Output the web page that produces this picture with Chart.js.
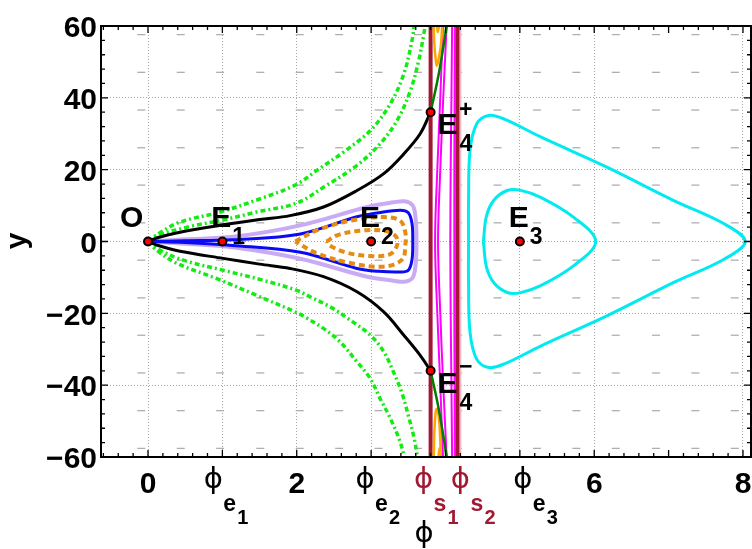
<!DOCTYPE html>
<html>
<head>
<meta charset="utf-8">
<script src="https://cdn.jsdelivr.net/npm/chart.js@4"></script>
<style>
body{margin:0;background:#fff}
</style>
</head>
<body>
<canvas id="chart" width="752" height="549"></canvas>
<script>

// equilibria
const pointX=[0,1,3,5,3.8,3.8]
const pointY=[0,0,0,0,36,-36]

// axis ticks
const xTickValues=[0,1,2,3,3.8,4.16,5,6,8]
const xNumberTicks=[0,2,6,8]
const yTickValues=[-60,-40,-20,0,20,40,60]
const phiTickAt=[1,3,3.8,4.16,5]
const phiSub=["e","e","s","s","e"]
const phiIdx=["1","2","1","2","3"]

// field arrows (grid of the direction field)
const fieldX=[-0.09,0.44,0.97,1.51,2.04,2.57,3.10,3.63,4.17,4.70,5.23,5.76,6.29,6.83,7.36,7.89]
const fieldY=[57.6,47.1,36.6,26.1,15.7,5.2,-5.2,-15.7,-26.1,-36.6,-47.1,-57.6]

// green dash-dot trajectories from O
const greenUpOuterX=[0,0.15,0.43,0.97,1.51,2.0,2.27,2.63,2.99,3.26,3.44,3.55,3.59]
const greenUpOuterY=[0,2.3,5.4,8.2,11.9,15.9,19.8,24.9,30.9,38.4,46.7,56.0,62]
const greenUpInnerX=[0,0.12,0.57,1.01,1.46,2.0,2.36,2.81,3.12,3.35,3.53,3.64,3.71,3.74]
const greenUpInnerY=[0,1.6,4.2,6.0,8.2,10.7,15.1,21.2,27.2,33.7,42.1,50.4,57.9,62]
const greenDnInnerX=[0,0.12,0.475,1.01,1.55,2.0,2.18,2.45,2.72,2.99,3.17,3.30,3.41,3.50,3.58,3.64]
const greenDnInnerY=[0,-2.0,-5.2,-8.0,-10.8,-13.6,-15.4,-18.2,-21.9,-26.1,-30.7,-36.3,-41.9,-48.4,-54.9,-62]
const greenDnOuterX=[0,0.12,0.39,0.92,1.46,2.0,2.14,2.36,2.58,2.81,2.99,3.12,3.26,3.39,3.47]
const greenDnOuterY=[0,-2.5,-6.1,-10.3,-15.0,-19.8,-21.4,-24.2,-27.9,-33.5,-38.2,-43.7,-49.3,-55.8,-62]

// black separatrices O -> E4
const blackUpX=[0,0.15,0.43,0.97,1.5,1.91,2.36,2.81,3.17,3.44,3.66,3.80]
const blackUpY=[0,1.2,2.6,4.5,6.1,7.2,9.6,14.2,18.9,24.4,30.0,36]
const blackDnX=[0,0.15,0.43,1.01,1.5,1.91,2.36,2.81,3.17,3.44,3.66,3.80]
const blackDnY=[0,-1.2,-2.7,-4.7,-6.3,-7.5,-9.8,-14.0,-19.6,-26.1,-31.7,-36]

// dark green from E4
const darkUpX=[3.80,3.91,4.02]
const darkUpY=[36,46.7,60.5]
const darkDnX=[3.80,3.91,4.02]
const darkDnY=[-36,-46.7,-60.5]

// loops around E2
const lavenderX=[0,0.5,1.14,2.05,2.95,3.3,3.45,3.56,3.6,3.61,3.6,3.56,3.45,3.3,2.95,2.05,1.14,0.5,0]
const lavenderY=[0,0.6,1.3,4.5,9.6,10.9,11.2,10.0,6,0,-6,-10,-11.2,-10.9,-9.8,-4.8,-1.6,-0.6,0]
const blueX=[0,0.5,1.14,2.05,2.81,3.1,3.39,3.5,3.55,3.56,3.55,3.5,3.39,3.1,2.81,2.05,1.14,0.5,0]
const blueY=[0,0.2,0.5,2.1,6.9,8.0,8.7,8.0,5,0,-5,-8.0,-8.5,-8.3,-7.5,-3.0,-1.1,-0.3,0]
const orangeOuterX=[1.98,2.27,2.72,3.17,3.39,3.46,3.46,3.42,3.17,2.72,2.27,1.98]
const orangeOuterY=[0,3.1,5.8,6.8,5.8,2.5,-1,-5,-7.0,-6.0,-3.3,0]
const orangeInnerX=[2.40,2.55,2.85,3.17,3.33,3.35,3.25,2.95,2.65,2.45,2.40]
const orangeInnerY=[0,1.8,3.0,3.0,1.5,-1,-3.6,-4.0,-3.0,-1.2,0]

// loops around E3
const cyanOuterX=[4.31,4.31,4.33,4.42,4.58,4.8,5.28,6.17,7.07,7.74,8.03,7.74,7.07,6.17,5.28,4.8,4.58,4.42,4.33,4.31,4.31]
const cyanOuterY=[0,11.4,25.3,32.8,35.1,34,29.1,20.7,11.4,5.0,0,-5.0,-11.4,-20.7,-29.1,-34,-35.1,-32.8,-25.3,-11.4,0]
const cyanInnerX=[4.51,4.55,4.65,4.83,5.0,5.28,5.72,6.02,5.72,5.28,5.0,4.83,4.65,4.55,4.51]
const cyanInnerY=[0,7,11.5,14.2,14.3,12.3,6.8,0,-6.8,-12.3,-14.3,-14.2,-11.5,-7,0]

// strip between singular lines
const magentaAX=[3.97,3.93,3.89,3.86,3.89,3.93,3.97]
const magentaBX=[4.02,3.97,3.93,3.90,3.93,3.97,4.02]
const magentaCX=[4.09,4.08,4.07,4.065,4.07,4.08,4.09]
const magentaDX=[4.13,4.125,4.12,4.12,4.12,4.125,4.13]
const magentaY=[62,40,20,0,-20,-40,-62]
const orangeTopX=[3.84,3.85,3.87,3.885,3.91,3.94,3.96]
const orangeTopY=[62,55,50.5,49,51,55,62]
const orangeTopSmallX=[3.88,3.895,3.93]
const orangeTopSmallY=[62,58.3,62]
const orangeBotX=[3.84,3.85,3.865,3.88,3.905,3.925,3.94]
const orangeBotY=[-62,-53,-48,-46.6,-48,-53,-62]
const orangeBotSmallX=[3.90,3.92,3.95]
const orangeBotSmallY=[-62,-57.5,-62]
const singularX=[3.8,4.16]


function curve(xs,ys,color,width,dash,order){
return {
data:xs.map((x,i)=>({x:x,y:ys[i]})),
showLine:true,
borderColor:color,
borderWidth:width,
borderDash:dash||[],
pointRadius:0,
tension:0.35,
fill:false,
clip:0,
order:order
}
}

const fieldPts=[]
fieldY.forEach(y=>fieldX.forEach(x=>fieldPts.push({x:x,y:y})))

const GREEN="rgb(20,235,20)"
const GDASH=[5,3,2,3]
const ORANGE="rgb(230,140,20)"
const MAROON="rgb(160,25,50)"
const MAGENTA="rgb(255,0,255)"

const datasets=[
{data:pointX.map((x,i)=>({x:x,y:pointY[i]})),showLine:false,pointRadius:4,pointBackgroundColor:"rgb(255,0,0)",pointBorderColor:"#000",pointBorderWidth:2,clip:false,order:0},
curve(darkUpX,darkUpY,"rgb(0,125,0)",2.5,null,2),
curve(darkDnX,darkDnY,"rgb(0,125,0)",2.5,null,2),
curve(orangeTopX,orangeTopY,"rgb(255,165,0)",2.5,null,3),
curve(orangeTopSmallX,orangeTopSmallY,"rgb(255,165,0)",2.5,null,3),
curve(orangeBotX,orangeBotY,"rgb(255,165,0)",2.5,null,3),
curve(orangeBotSmallX,orangeBotSmallY,"rgb(255,165,0)",2.5,null,3),
curve(magentaAX,magentaY,MAGENTA,2,null,4),
curve(magentaBX,magentaY,MAGENTA,2,null,4),
curve(magentaCX,magentaY,MAGENTA,2,null,4),
curve(magentaDX,magentaY,MAGENTA,2,null,4),
curve([singularX[0],singularX[0]],[-62,62],MAROON,4,null,5),
curve([singularX[1],singularX[1]],[-62,62],MAROON,4,null,5),
curve([singularX[1],singularX[1]],[-62,62],"rgb(238,185,195)",8,null,6),
curve(blackUpX,blackUpY,"#000",3,null,7),
curve(blackDnX,blackDnY,"#000",3,null,7),
curve(orangeOuterX,orangeOuterY,ORANGE,4,[6,4],8),
curve(orangeInnerX,orangeInnerY,ORANGE,4,[6,4],8),
curve(blueX,blueY,"rgb(10,10,245)",3,null,9),
curve(lavenderX,lavenderY,"rgb(200,170,245)",4,null,10),
curve(cyanOuterX,cyanOuterY,"rgb(0,235,240)",3,null,11),
curve(cyanInnerX,cyanInnerY,"rgb(0,235,240)",3,null,11),
curve(greenUpOuterX,greenUpOuterY,GREEN,3.5,GDASH,12),
curve(greenUpInnerX,greenUpInnerY,GREEN,3.5,GDASH,12),
curve(greenDnOuterX,greenDnOuterY,GREEN,3.5,GDASH,12),
curve(greenDnInnerX,greenDnInnerY,GREEN,3.5,GDASH,12),
{data:fieldPts,showLine:false,pointStyle:"line",pointRadius:4,pointBorderColor:"rgb(175,175,175)",pointBorderWidth:1.3,order:20}
]


function txt(ctx,s,x,y,font,color,align,base){
ctx.font=font
ctx.fillStyle=color
ctx.textAlign=align||"left"
ctx.textBaseline=base||"alphabetic"
ctx.fillText(s,x,y)
}

const BOLD="bold 30px 'Liberation Sans'"
const SUB="bold 23px 'Liberation Sans'"
const PHI="29px 'DejaVu Sans'"

const decor={
id:"decor",
afterDatasetsDraw(chart){
const ctx=chart.ctx,xs=chart.scales.x,ys=chart.scales.y
ctx.save()
const px=i=>xs.getPixelForValue(pointX[i])
const py=i=>ys.getPixelForValue(pointY[i])
txt(ctx,"O",px(0)-28,py(0)-15,BOLD,"#000")
for(let i=1;i<4;i++){
txt(ctx,"E",px(i)-11,py(i)-15,BOLD,"#000")
txt(ctx,String(i),px(i)+10,py(i)+2,SUB,"#000")
}
txt(ctx,"E",px(4)+7,py(4)+22,BOLD,"#000")
txt(ctx,"+",px(4)+35,py(4)-2,SUB,"#000","center","middle")
txt(ctx,"4",px(4)+29,py(4)+39,SUB,"#000")
txt(ctx,"E",px(5)+7,py(5)+22,BOLD,"#000")
txt(ctx,"\u2212",px(5)+35,py(5)-3,SUB,"#000","center","middle")
txt(ctx,"4",px(5)+29,py(5)+39,SUB,"#000")
ctx.restore()
},
afterDraw(chart){
const ctx=chart.ctx,xs=chart.scales.x,ys=chart.scales.y,a=chart.chartArea
ctx.save()
ctx.strokeStyle="#000"
ctx.lineWidth=1.3
ctx.beginPath()
for(let k=-3;k<=40;k++){
const v=k/5
const p=xs.getPixelForValue(v)
const L=(k%5===0)?7:4
ctx.moveTo(p,a.bottom);ctx.lineTo(p,a.bottom-L)
ctx.moveTo(p,a.top);ctx.lineTo(p,a.top+L)
}
for(let v=-60;v<=60;v+=4){
const p=ys.getPixelForValue(v)
const L=(v%20===0)?7:4
ctx.moveTo(a.left,p);ctx.lineTo(a.left+L,p)
ctx.moveTo(a.right,p);ctx.lineTo(a.right-L,p)
}
ctx.stroke()
ctx.lineWidth=2
ctx.strokeRect(a.left,a.top,a.right-a.left,a.bottom-a.top)

// number tick labels
xNumberTicks.forEach(v=>{
txt(ctx,String(v),xs.getPixelForValue(v),493,BOLD,"#000","center")
})

// phi tick labels
const dx=[-9,-6,-7,3,3]
phiTickAt.forEach((v,i)=>{
const p=xs.getPixelForValue(v)
const col=phiSub[i]==="s"?MAROON:"#000"
txt(ctx,"\u03d5",p+dx[i],488,PHI,col,"center")
txt(ctx,phiSub[i],p+dx[i]+10,511,SUB,col)
txt(ctx,phiIdx[i],p+dx[i]+24,524,"bold 20px 'Liberation Sans'",col)
})

// axis titles
txt(ctx,"\u03d5",424,542,PHI,"#000","center")
ctx.translate(18,241)
ctx.rotate(-Math.PI/2)
txt(ctx,"y",0,0,BOLD,"#000","center","middle")
ctx.restore()
}
}


new Chart(document.getElementById("chart"),{
type:"scatter",
data:{datasets:datasets},
options:{
responsive:false,
animation:false,
events:[],
layout:{autoPadding:false,padding:{top:26,right:1,left:0,bottom:0}},
plugins:{legend:{display:false},tooltip:{enabled:false}},
scales:{
x:{
type:"linear",min:-0.632,max:8.108,
afterBuildTicks(s){s.ticks=xTickValues.map(v=>({value:v}))},
afterFit(s){s.height=92;s.paddingLeft=0;s.paddingRight=0},
grid:{color:"rgb(165,165,165)",lineWidth:1,drawTicks:false},
border:{display:false,dash:[1,2]},
ticks:{display:false}
},
y:{
type:"linear",min:-60,max:60,
afterBuildTicks(s){s.ticks=yTickValues.map(v=>({value:v}))},
afterFit(s){s.width=101;s.paddingTop=0;s.paddingBottom=0},
grid:{color:"rgb(165,165,165)",lineWidth:1,drawTicks:false},
border:{display:false,dash:[1,2]},
ticks:{padding:4,labelOffset:3,color:"#000",
font:{family:"Liberation Sans",weight:"bold",size:30},
callback:v=>v<0?"\u2212"+(-v):String(v)}
}
}
},
plugins:[decor]
})

</script>
</body>
</html>
